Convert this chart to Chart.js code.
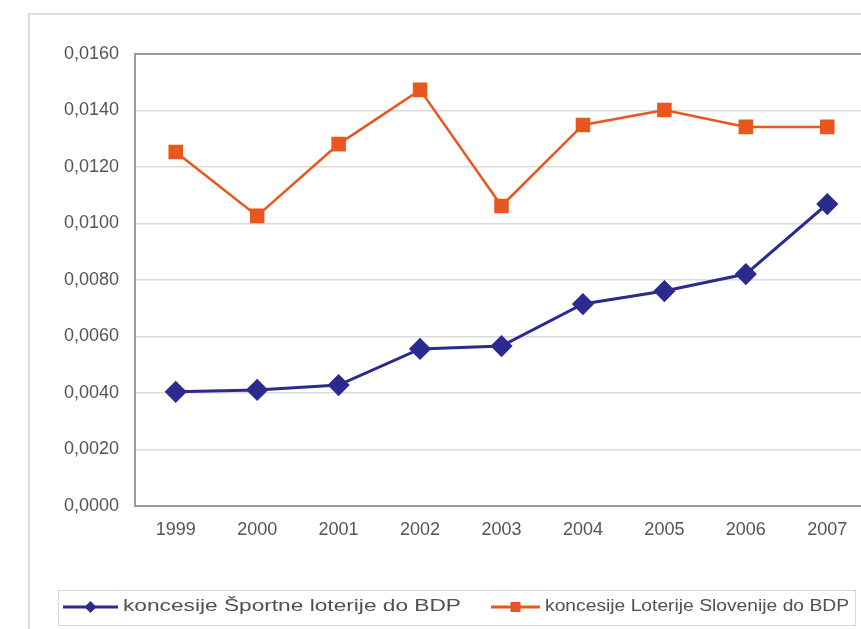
<!DOCTYPE html>
<html>
<head>
<meta charset="utf-8">
<script src="https://cdn.jsdelivr.net/npm/chart.js@4.4.1/dist/chart.umd.min.js"></script>
<style>
  html, body { margin: 0; padding: 0; background: #fff; overflow: hidden; }
</style>
</head>
<body>
<canvas id="chart" width="880" height="629"></canvas>
<script>
// Data
const years = ["1999", "2000", "2001", "2002", "2003", "2004", "2005", "2006", "2007"];
const sportnaLoterija = [0.00404, 0.00411, 0.00428, 0.00556, 0.00566, 0.00715, 0.00761, 0.00821, 0.01069];
const loterijaSlovenije = [0.01253, 0.01027, 0.01281, 0.01473, 0.01062, 0.01349, 0.01402, 0.01342, 0.01342];
const seriesNames = ["koncesije Športne loterije do BDP", "koncesije Loterije Slovenije do BDP"];

const BLUE = "#2b2b8f";
const ORANGE = "#e8571f";
const TICK_FONT = { family: "'Liberation Sans', Arial, sans-serif", size: 18 };

// outer frame + custom legend box (Excel look)
const frameAndLegend = {
  id: "frameAndLegend",
  beforeDraw(chart) {
    const ctx = chart.ctx;
    ctx.save();
    ctx.strokeStyle = "#dcdcdc";
    ctx.lineWidth = 2;
    ctx.beginPath();
    ctx.moveTo(29, 640);
    ctx.lineTo(29, 14);
    ctx.lineTo(880, 14);
    ctx.stroke();
    ctx.restore();
  },
  afterDraw(chart) {
    const ctx = chart.ctx;
    ctx.save();
    ctx.strokeStyle = "#d8d8d8";
    ctx.lineWidth = 1;
    ctx.strokeRect(58.5, 590.5, 797, 35);

    const y = 607;
    const items = [
      { x1: 63, x2: 118, color: BLUE, marker: "diamond", textX: 123, textW: 338 },
      { x1: 491, x2: 540, color: ORANGE, marker: "square", textX: 545, textW: 304 }
    ];
    chart.data.datasets.forEach((ds, i) => {
      const it = items[i];
      ctx.strokeStyle = it.color;
      ctx.fillStyle = it.color;
      ctx.lineWidth = 3;
      ctx.beginPath();
      ctx.moveTo(it.x1, y);
      ctx.lineTo(it.x2, y);
      ctx.stroke();
      const cx = (it.x1 + it.x2) / 2;
      ctx.beginPath();
      if (it.marker === "diamond") {
        ctx.moveTo(cx, y - 6);
        ctx.lineTo(cx + 6, y);
        ctx.lineTo(cx, y + 6);
        ctx.lineTo(cx - 6, y);
        ctx.closePath();
        ctx.fill();
      } else {
        ctx.fillRect(cx - 5, y - 5, 10, 10);
      }
      // label, stretched to match the wide lettering
      ctx.font = "16px 'Liberation Sans', Arial, sans-serif";
      ctx.fillStyle = "#505050";
      ctx.textBaseline = "middle";
      const w = ctx.measureText(ds.label).width;
      ctx.save();
      ctx.translate(it.textX, y);
      ctx.scale(it.textW / w, 1);
      ctx.fillText(ds.label, 0, 0);
      ctx.restore();
    });
    ctx.restore();
  }
};

const ctx = document.getElementById("chart");
new Chart(ctx, {
  type: "line",
  data: {
    labels: years,
    datasets: [
      {
        label: seriesNames[0],
        data: sportnaLoterija,
        borderColor: BLUE,
        backgroundColor: BLUE,
        borderWidth: 3,
        pointStyle: "rectRot",
        pointRadius: 9,
        pointHoverRadius: 9,
        tension: 0
      },
      {
        label: seriesNames[1],
        data: loterijaSlovenije,
        borderColor: ORANGE,
        backgroundColor: ORANGE,
        borderWidth: 2.5,
        pointStyle: "rect",
        pointRadius: 8.5,
        pointHoverRadius: 8.5,
        tension: 0
      }
    ]
  },
  options: {
    responsive: false,
    animation: false,
    devicePixelRatio: 1,
    layout: {
      padding: { top: 54, left: 28, right: 11, bottom: 83 }
    },
    plugins: {
      legend: { display: false },
      tooltip: { enabled: false }
    },
    scales: {
      x: {
        offset: true,
        afterFit(scale) { scale.height = 40; },
        grid: { display: false, drawTicks: false },
        border: { color: "#9a9a9a", width: 2 },
        ticks: {
          color: "#555",
          padding: 13,
          font: TICK_FONT
        }
      },
      y: {
        min: 0,
        max: 0.016,
        afterFit(scale) { scale.width = 107; },
        grid: {
          drawTicks: false,
          color: (c) => (c.tick && c.tick.value >= 0.016 ? "#9a9a9a" : "#dadada"),
          lineWidth: (c) => (c.tick && c.tick.value >= 0.016 ? 2 : 1.5)
        },
        border: { color: "#9a9a9a", width: 2 },
        ticks: {
          stepSize: 0.002,
          color: "#555",
          padding: 16,
          font: TICK_FONT,
          callback: (v) => v.toFixed(4).replace(".", ",")
        }
      }
    }
  },
  plugins: [frameAndLegend]
});
</script>
</body>
</html>
